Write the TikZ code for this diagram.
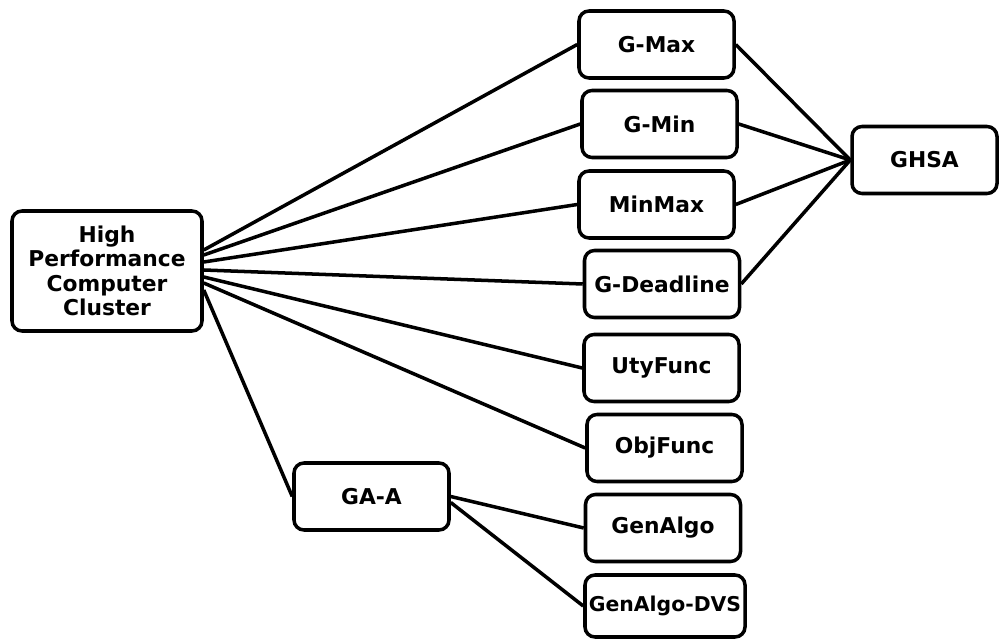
\documentclass[tikz,border=0pt]{standalone}
\usepackage{fontspec}
\setmainfont{DejaVu Sans}
\begin{document}
\begin{tikzpicture}[
  every node/.style={font=\bfseries\fontsize{12.4}{13.8}\selectfont},
  box/.style={draw, line width=2pt, rounded corners=0.2cm, align=center,
              inner sep=0pt, minimum width=3.1cm, minimum height=1.34cm},
  link/.style={line width=2pt}
]
\useasboundingbox (0,0) rectangle (20,-12.82);
\node[box, minimum width=3.8cm, minimum height=2.4cm] (hpc) at (2.14,-5.42)
  {High\\Performance\\Computer\\Cluster};
\node[box] (gmax) at (13.13,-0.89) {G-Max};
\node[box] (gmin) at (13.19,-2.48) {G-Min};
\node[box] (minmax) at (13.13,-4.09) {MinMax};
\node[box] (gdead) at (13.24,-5.68) {G-Deadline};
\node[box] (uty) at (13.23,-7.36) {UtyFunc};
\node[box] (obj) at (13.29,-8.96) {ObjFunc};
\node[box] (gen) at (13.26,-10.56) {GenAlgo};
\node[box, minimum width=3.2cm, minimum height=1.24cm, font=\bfseries\fontsize{11.6}{13}\selectfont] (gendvs) at (13.30,-12.12) {GenAlgo-DVS};
\node[box, minimum width=2.9cm] (ghsa) at (18.49,-3.2) {GHSA};
\node[box] (gaa) at (7.43,-9.93) {GA-A};

\draw[link] ([yshift=0.42cm]hpc.east) -- (gmax.west);
\draw[link] ([yshift=0.32cm]hpc.east) -- (gmin.west);
\draw[link] ([yshift=0.18cm]hpc.east) -- (minmax.west);
\draw[link] ([yshift=0.02cm]hpc.east) -- (gdead.west);
\draw[link] ([yshift=-0.12cm]hpc.east) -- (uty.west);
\draw[link] ([yshift=-0.24cm]hpc.east) -- (obj.west);
\draw[link] ([yshift=-0.38cm]hpc.east) -- (gaa.west);

\draw[link] (gmax.east) -- (ghsa.west);
\draw[link] (gmin.east) -- (ghsa.west);
\draw[link] (minmax.east) -- (ghsa.west);
\draw[link] (gdead.east) -- (ghsa.west);

\draw[link] (gaa.east) -- (gen.west);
\draw[link] ([yshift=-0.12cm]gaa.east) -- (gendvs.west);
\end{tikzpicture}
\end{document}
